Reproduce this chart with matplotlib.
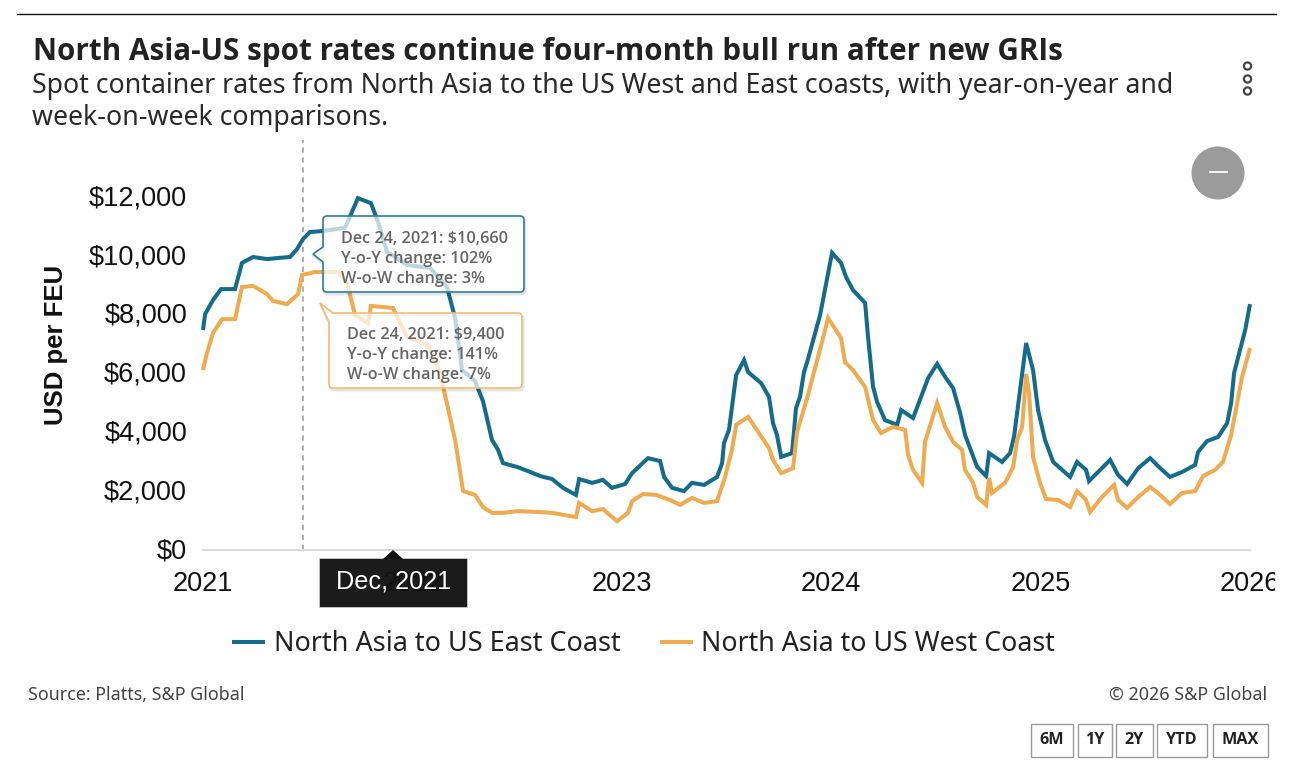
import matplotlib
matplotlib.use('Agg')
import matplotlib.pyplot as plt
from matplotlib.patches import Circle, PathPatch, Polygon, Rectangle
from matplotlib.path import Path
from matplotlib.transforms import Affine2D, Bbox


# years since Jan 2021, USD per FEU
EAST_T = [0, .010, .048, .086, .153, .186, .239, .306, .363, .416, .449, .478, .511, .568, .678, .740, .802, .836, .879, .974,
	1.084, 1.165, 1.204, 1.237, 1.299, 1.337, 1.380, 1.409, 1.433, 1.500, 1.552, 1.610, 1.667, 1.719, 1.781, 1.796, 1.858, 1.910, 1.953,
	2.016, 2.049, 2.125, 2.183, 2.202, 2.240, 2.297, 2.335, 2.393, 2.455, 2.479, 2.488, 2.512, 2.546, 2.584, 2.603, 2.665, 2.703, 2.722,
	2.741, 2.761, 2.813, 2.832, 2.851, 2.870, 2.885, 2.947, 3.004, 3.047, 3.071, 3.104, 3.162, 3.176, 3.200, 3.219, 3.257, 3.315, 3.334,
	3.391, 3.463, 3.506, 3.544, 3.582, 3.616, 3.639, 3.697, 3.740, 3.754, 3.816, 3.854, 3.873, 3.931, 3.964, 3.988, 4.021, 4.060, 4.141,
	4.174, 4.217, 4.231, 4.332, 4.370, 4.413, 4.466, 4.523, 4.571, 4.618, 4.676, 4.738, 4.752, 4.795, 4.848, 4.891, 4.910, 4.924, 4.977, 5.000]
EAST_V = [7470, 8010, 8490, 8860, 8860, 9750, 9950, 9880, 9920, 9950, 10220, 10560, 10800, 10830, 10940, 11950, 11780, 11140, 10120, 9680,
	9580, 8930, 7880, 6110, 5740, 5060, 3740, 3400, 2950, 2820, 2680, 2510, 2410, 2110, 1870, 2410, 2280, 2380, 2110,
	2240, 2610, 3120, 3020, 2480, 2110, 2000, 2280, 2210, 2480, 2950, 3630, 4080, 5940, 6450, 6040, 5670, 5200, 4310,
	3910, 3160, 3290, 4820, 5200, 6040, 6380, 7980, 10090, 9750, 9270, 8830, 8390, 7230, 5540, 5030, 4410, 4250, 4750,
	4480, 5840, 6320, 5880, 5500, 4650, 3910, 2820, 2510, 3290, 2990, 3290, 3840, 7030, 6110, 4750, 3740, 2990, 2480,
	2990, 2720, 2340, 3060, 2550, 2240, 2780, 3120, 2780, 2480, 2650, 2890, 3330, 3700, 3840, 4310, 4990, 6010, 7470, 8350]

WEST_T = [0, .019, .048, .091, .153, .186, .239, .306, .334, .401, .454, .473, .535, .645, .688, .726, .788, .802, .907, .974,
	1.075, 1.132, 1.204, 1.242, 1.299, 1.337, 1.380, 1.433, 1.500, 1.610, 1.667, 1.781, 1.796, 1.858, 1.910, 1.977,
	2.030, 2.049, 2.101, 2.164, 2.230, 2.278, 2.335, 2.393, 2.455, 2.493, 2.526, 2.546, 2.603, 2.703, 2.722, 2.761, 2.818, 2.837, 2.889, 2.923, 2.961, 2.985,
	3.047, 3.066, 3.104, 3.162, 3.200, 3.238, 3.295, 3.353, 3.367, 3.391, 3.434, 3.448, 3.506, 3.544, 3.582, 3.625, 3.639, 3.678, 3.697, 3.740, 3.754, 3.768,
	3.830, 3.869, 3.888, 3.912, 3.931, 3.945, 3.964, 3.997, 4.026, 4.083, 4.141, 4.174, 4.217, 4.236, 4.293, 4.351, 4.370, 4.413, 4.466, 4.523, 4.571, 4.618,
	4.676, 4.738, 4.776, 4.833, 4.871, 4.910, 4.962, 5.000]
WEST_V = [6110, 6690, 7370, 7840, 7840, 8930, 8970, 8690, 8460, 8350, 8690, 9340, 9440, 9440, 9070, 7980, 7710, 8290, 8220, 7230,
	6960, 6010, 3740, 2000, 1870, 1460, 1260, 1260, 1320, 1290, 1260, 1120, 1600, 1320, 1390, 980,
	1260, 1660, 1900, 1870, 1700, 1530, 1770, 1600, 1660, 2480, 3400, 4250, 4520, 3460, 3060, 2610, 2780, 4010, 5260, 6180, 7200, 7880,
	7200, 6380, 6110, 5540, 4410, 3970, 4180, 4080, 3230, 2720, 2280, 3670, 4990, 4180, 3670, 3400, 2720, 2280, 1800, 1530, 2450, 1940,
	2280, 2820, 3740, 4180, 5980, 5330, 3160, 2280, 1730, 1700, 1460, 2000, 1700, 1290, 1800, 2210, 1700, 1430, 1800, 2140, 1870, 1560,
	1940, 2000, 2510, 2720, 2990, 3910, 5880, 6860]

START_YEAR = 2021
HOVER_YEAR = 2021.478
Y_TICKS = [0, 2000, 4000, 6000, 8000, 10000, 12000]
Y_LABELS = ['$0', '$2,000', '$4,000', '$6,000', '$8,000', '$10,000', '$12,000']
X_TICKS = [2021, 2022, 2023, 2024, 2025, 2026]
BUTTONS = ['6M', '1Y', '2Y', 'YTD', 'MAX']
BUTTON_X = [(1031, 1073), (1078, 1112), (1116, 1153), (1157, 1207), (1213, 1268)]

TEAL = '#146c8a'
ORANGE = '#efab4f'
W, H = 1301, 762
SANS = 'Liberation Sans'
HEAD = 'Noto Sans'
BOLD = 'Open Sans'


def tooltip_path(x0, y0, x1, y1, r, tip):
	# rounded box, the pointer goes in on the left edge or the top left corner
	a, t, b = tip
	verts = [a, t, b, (x0, y1 - r), (x0, y1), (x0 + r, y1), (x1 - r, y1), (x1, y1), (x1, y1 - r),
		(x1, y0 + r), (x1, y0), (x1 - r, y0)]
	codes = [Path.MOVETO, Path.LINETO, Path.LINETO, Path.LINETO, Path.CURVE3, Path.CURVE3, Path.LINETO, Path.CURVE3, Path.CURVE3,
		Path.LINETO, Path.CURVE3, Path.CURVE3]
	if a[1] > y0:
		verts += [(x0 + r, y0), (x0, y0), (x0, y0 + r)]
		codes += [Path.LINETO, Path.CURVE3, Path.CURVE3]
	verts += [a, a]
	codes += [Path.LINETO, Path.CLOSEPOLY]
	return Path(verts, codes)


def draw_tooltip(ui, path, color, lines, x, y):
	# soft shadow is only a stroke so the fill stays white
	ui.add_patch(PathPatch(path.transformed(Affine2D().translate(1, 2)), fc='none', ec='#000000', lw=2.2, alpha=0.1))
	ui.add_patch(PathPatch(path, fc='#ffffff', ec='none', alpha=0.72))
	ui.add_patch(PathPatch(path, fc='none', ec=color, lw=1.2, joinstyle='miter'))
	for i, line in enumerate(lines):
		ui.text(x, y + i * 20, line, color='#666666', fontsize=11.7, fontweight='semibold', family=BOLD, va='center', ha='left')


fig = plt.figure(figsize=(W / 100, H / 100), dpi=100, facecolor='white')

ax = fig.add_axes([203 / W, 1 - 550 / H, (1250 - 203) / W, (550 - 140) / H])
ax.set_xlim(2021, 2026)
ax.set_ylim(0, 13924)
ax.patch.set_alpha(0)
for side in ['top', 'left', 'right']:
	ax.spines[side].set_visible(False)
ax.spines['bottom'].set_color('#d9d9d9')
ax.spines['bottom'].set_linewidth(1.4)
ax.set_xticks(X_TICKS)
ax.set_yticks(Y_TICKS)
ax.set_yticklabels(Y_LABELS, fontsize=19.5, family=SANS, color='#111111', va='center_baseline')
ax.tick_params(axis='y', length=0, pad=11.5)
ax.tick_params(axis='x', length=0, pad=15, labelsize=19.5, labelcolor='#111111')
for lab in ax.get_yticklabels():
	lab.set_transform(lab.get_transform() + Affine2D().translate(0, 1.5))
for lab in ax.get_xticklabels():
	lab.set_family(SANS)
	lab.set_clip_box(Bbox([[0, 0], [1275, H]]))
	lab.set_clip_on(True)

ax.axvline(HOVER_YEAR, color='#9a9a9a', lw=1.1, ls=(0, (3.5, 3)))
ax.plot([START_YEAR + t for t in EAST_T], EAST_V, color=TEAL, lw=2.9, solid_joinstyle='miter', solid_capstyle='butt', clip_on=False)
ax.plot([START_YEAR + t for t in WEST_T], WEST_V, color=ORANGE, lw=2.9, solid_joinstyle='miter', solid_capstyle='butt', clip_on=False)

# everything around the plot is placed in pixels on a full-size overlay
ui = fig.add_axes([0, 0, 1, 1])
ui.set_xlim(0, W)
ui.set_ylim(H, 0)
ui.axis('off')

ui.plot([17, 1276], [13.5, 13.5], color='#111111', lw=1)
ui.text(33, 52, 'North Asia-US spot rates continue four-month bull run after new GRIs', fontsize=21.35, fontweight='bold', family=BOLD, color='#222222', va='center')
ui.text(32, 86, 'Spot container rates from North Asia to the US West and East coasts, with year-on-year and', fontsize=19.2, family=HEAD, color='#2a2a2a', va='center')
ui.text(32, 118, 'week-on-week comparisons.', fontsize=19.2, family=HEAD, color='#2a2a2a', va='center')
ui.text(56, 345, 'USD per FEU', rotation=90, fontsize=18.5, fontweight='bold', family=SANS, color='#111111', va='center', ha='center')

for y in [66, 79, 91]:
	ui.add_patch(Circle((1247.5, y), 3.6, fc='white', ec='#444444', lw=1.6))
ui.add_patch(Circle((1218, 173), 26.5, fc='#9b9b9b', ec='none'))
ui.plot([1210, 1227], [172, 172], color='white', lw=1.3)

draw_tooltip(ui, tooltip_path(323, 216, 524, 292, 4, ((323, 247), (313, 254), (323, 262))), '#2f7d9b',
	['Dec 24, 2021: $10,660', 'Y-o-Y change: 102%', 'W-o-W change: 3%'], 341, 239)
draw_tooltip(ui, tooltip_path(329, 313, 522, 388, 4, ((333, 313), (320, 303), (329, 322))), '#f2bd72',
	['Dec 24, 2021: $9,400', 'Y-o-Y change: 141%', 'W-o-W change: 7%'], 347, 335)

# date flag on the axis
ui.add_patch(Rectangle((319, 558), 148, 49, fc='#111111', ec='#cccccc', lw=0.6, alpha=0.96))
ui.add_patch(Polygon([(383, 559), (393, 550), (403, 559)], fc='#111111', ec='none'))
ui.text(393.5, 582, 'Dec, 2021', color='white', fontsize=18.2, family=SANS, ha='center', va='center')

ui.plot([232, 265], [642, 642], color=TEAL, lw=2.9, solid_capstyle='butt')
ui.text(274, 644, 'North Asia to US East Coast', fontsize=19.45, family=HEAD, color='#222222', va='center')
ui.plot([660, 693], [642, 642], color=ORANGE, lw=2.9, solid_capstyle='butt')
ui.text(701, 644, 'North Asia to US West Coast', fontsize=19.25, family=HEAD, color='#222222', va='center')

ui.text(28, 695, 'Source: Platts, S&P Global', fontsize=12.9, family=HEAD, color='#444444', va='center')
ui.text(1267, 695, '© 2026 S&P Global', fontsize=12.9, family=HEAD, color='#444444', va='center', ha='right')

for label, (x0, x1) in zip(BUTTONS, BUTTON_X):
	ui.add_patch(Rectangle((x0, 724), x1 - x0, 33, fc='white', ec='#999999', lw=1))
	ui.text((x0 + x1) / 2, 740, label, fontsize=11.6, fontweight='bold', family=BOLD, color='#222222', ha='center', va='center')

fig.savefig('out.png', dpi=100)
